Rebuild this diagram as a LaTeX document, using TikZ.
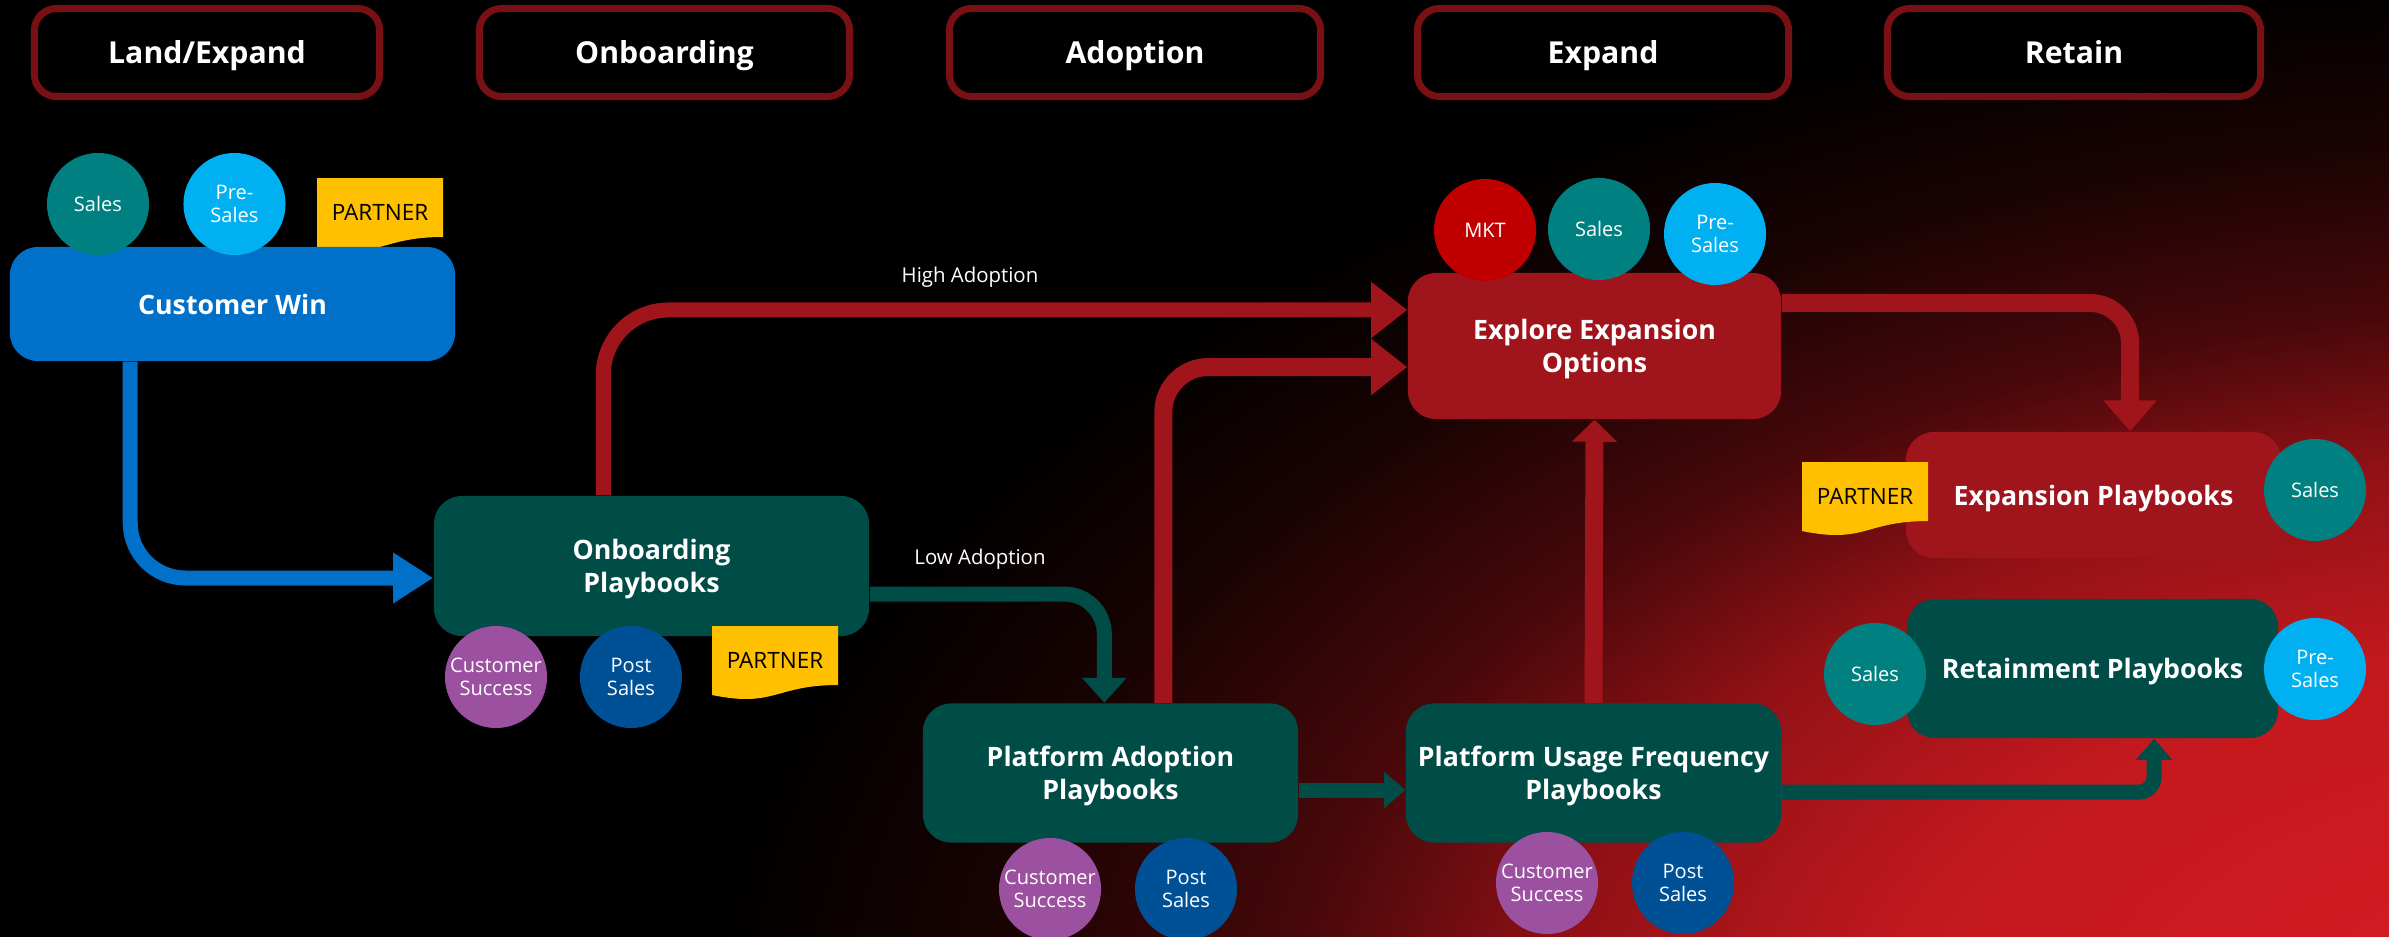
\documentclass[tikz,border=0pt]{standalone}
\usepackage{fontspec}
\setmainfont{Open Sans}
\usetikzlibrary{arrows.meta}
\definecolor{winBlue}{RGB}{0,112,200}
\definecolor{playTeal}{RGB}{0,77,72}
\definecolor{playRed}{RGB}{160,20,28}
\definecolor{salesTeal}{RGB}{0,128,128}
\definecolor{preBlue}{RGB}{0,176,240}
\definecolor{csPurple}{RGB}{155,80,160}
\definecolor{postBlue}{RGB}{0,80,150}
\definecolor{mktRed}{RGB}{192,0,0}
\definecolor{tagYellow}{RGB}{255,192,0}
\definecolor{stageRed}{RGB}{120,16,20}
\definecolor{glowA}{RGB}{215,28,36}
\definecolor{glowB}{RGB}{210,26,33}
\definecolor{glowC}{RGB}{195,25,30}
\definecolor{glowD}{RGB}{145,17,22}
\definecolor{glowE}{RGB}{72,8,10}
\definecolor{glowF}{RGB}{25,3,3}
% the path box is the middle 50bp of the shading
\pgfdeclareradialshading{bgglow}{\pgfpoint{0bp}{0bp}}{color(0bp)=(glowA); color(3.75bp)=(glowB); color(9.25bp)=(glowC); color(13.75bp)=(glowD); color(17.25bp)=(glowE); color(21.25bp)=(glowF); color(25bp)=(black); color(50bp)=(black)}

\tikzset{
  stage/.style={draw=stageRed, line width=0.07cm, rounded corners=0.22cm, fill=black, fill opacity=0.85, text opacity=1, minimum height=0.88cm, text height=6.2pt, text depth=0pt, text=white, font=\fontsize{8.6}{10}\selectfont\bfseries},
  play/.style={rounded corners=0.28cm, text=white, align=center, inner sep=0pt, text depth=0pt, font=\fontsize{7.6}{9.5}\selectfont\bfseries},
  role/.style={circle, minimum size=1.02cm, inner sep=0pt, text=white, align=center, font=\fontsize{5.7}{6.6}\selectfont},
  tagtext/.style={text=black, inner sep=0pt, font=\fontsize{6.4}{7.5}\selectfont},
  flowlabel/.style={text=white, inner sep=0pt, font=\fontsize{5.8}{7}\selectfont},
  blueflow/.style={draw=winBlue, line width=0.15cm, -{Triangle[length=0.4cm,width=0.48cm]}},
  redflow/.style={draw=playRed, line width=0.18cm, -{Triangle[length=0.36cm,width=0.54cm]}},
  tealflow/.style={draw=playTeal, line width=0.15cm, -{Triangle[length=0.21cm,width=0.35cm]}},
}

\begin{document}
\begin{tikzpicture}[x=0.01cm,y=-0.01cm]
		\useasboundingbox (0,0) rectangle (2389,936);
		% background
		\fill[black] (-20,-20) rectangle (2409,956);
		\begin{scope}
		\clip (-20,-20) rectangle (2409,956);
		\shade[shading=bgglow] (2600,1050) ellipse [x radius=19cm, y radius=10.8cm];
		\end{scope}

		% stages
		\node[stage, minimum width=3.45cm] (landexp) at (207,52.5) {Land/Expand};
		\node[stage, minimum width=3.70cm] (onbstage) at (664.5,52.5) {Onboarding};
		\node[stage, minimum width=3.71cm] (adopt) at (1135,52.5) {Adoption};
		\node[stage, minimum width=3.71cm] (expand) at (1603,52.5) {Expand};
		\node[stage, minimum width=3.73cm] (retain) at (2074,52.5) {Retain};

		% tag under the win box
		\fill[tagYellow] (317,178) -- (443,178) -- (443,237) .. controls (380,237) and (380,260) .. (317,247) -- cycle;
		\node[tagtext] (wintag) at (380,212) {PARTNER};

		% playbooks
		\node[play, fill=winBlue, minimum width=4.45cm, minimum height=1.14cm] (win) at (232.5,304) {Customer Win};
		\node[play, fill=playTeal, minimum width=4.35cm, minimum height=1.4cm] (onb) at (651.5,566) {Onboarding\\Playbooks};
		\node[play, fill=playTeal, minimum width=3.75cm, minimum height=1.39cm] (pa) at (1110.5,773) {Platform Adoption\\Playbooks};
		\node[play, fill=playTeal, minimum width=3.75cm, minimum height=1.39cm] (puf) at (1593.5,773) {Platform Usage Frequency\\Playbooks};
		\node[play, fill=playRed, minimum width=3.73cm, minimum height=1.46cm] (expl) at (1594.5,346) {Explore Expansion\\Options};
		\node[play, fill=playRed, minimum width=3.75cm, minimum height=1.26cm] (expn) at (2093.5,495) {Expansion Playbooks};
		\node[play, fill=playTeal, minimum width=3.71cm, minimum height=1.39cm] (ret) at (2092.5,668.5) {Retainment Playbooks};

		% flows
		\draw[blueflow, rounded corners=0.55cm] ([xshift=1.21cm]win.south west) |- ([yshift=-0.12cm]onb.west);
		\draw[redflow, line width=0.15cm, rounded corners=0.65cm] ([xshift=1.7cm]onb.north west) |- ([yshift=0.36cm]expl.west);
		\node[flowlabel] (hilabel) at (970,277) {High Adoption};
		\draw[tealflow, rounded corners=0.4cm, -{Triangle[length=0.25cm,width=0.43cm]}] ([yshift=-0.28cm]onb.east) -| ([xshift=1.82cm]pa.north west);
		\node[flowlabel] (lolabel) at (980,559) {Low Adoption};
		\draw[redflow, rounded corners=0.45cm] ([xshift=2.41cm]pa.north west) |- ([yshift=-0.21cm]expl.west);
		\draw[tealflow] ([yshift=-0.17cm]pa.east) -- ([yshift=-0.17cm]puf.west);
		\draw[redflow, -{Triangle[length=0.22cm,width=0.44cm]}] (puf.north) -- (expl.south);
		\draw[redflow, rounded corners=0.4cm, -{Triangle[length=0.31cm,width=0.52cm]}] ([yshift=0.43cm]expl.east) -| ([xshift=0.365cm]expn.north);
		\draw[tealflow, rounded corners=0.15cm] ([yshift=-0.19cm]puf.east) -| ([xshift=0.615cm]ret.south);

		% tags on top
		\fill[tagYellow] (712,626) -- (838,626) -- (838,685) .. controls (775,685) and (775,708) .. (712,695) -- cycle;
		\node[tagtext] (onbtag) at (775,660) {PARTNER};
		\fill[tagYellow] (1802,462) -- (1928,462) -- (1928,521) .. controls (1865,521) and (1865,544) .. (1802,531) -- cycle;
		\node[tagtext] (expntag) at (1865,496) {PARTNER};

		% roles
		\node[role, fill=salesTeal] (winsales) at (98,204) {Sales};
		\node[role, fill=preBlue] (winpre) at (234.5,204) {Pre-\\Sales};
		\node[role, fill=csPurple] (onbcs) at (496,677) {Customer\\Success};
		\node[role, fill=postBlue] (onbps) at (631,677) {Post\\Sales};
		\node[role, fill=csPurple] (pacs) at (1050,889) {Customer\\Success};
		\node[role, fill=postBlue] (paps) at (1186,889) {Post\\Sales};
		\node[role, fill=csPurple] (pufcs) at (1547,883) {Customer\\Success};
		\node[role, fill=postBlue] (pufps) at (1683,883) {Post\\Sales};
		\node[role, fill=mktRed] (explmkt) at (1485,230) {MKT};
		\node[role, fill=salesTeal] (explsales) at (1599,229) {Sales};
		\node[role, fill=preBlue] (explpre) at (1715,234) {Pre-\\Sales};
		\node[role, fill=salesTeal] (expnsales) at (2315,490) {Sales};
		\node[role, fill=salesTeal] (retsales) at (1875,674) {Sales};
		\node[role, fill=preBlue] (retpre) at (2315,669) {Pre-\\Sales};
\end{tikzpicture}
\end{document}
